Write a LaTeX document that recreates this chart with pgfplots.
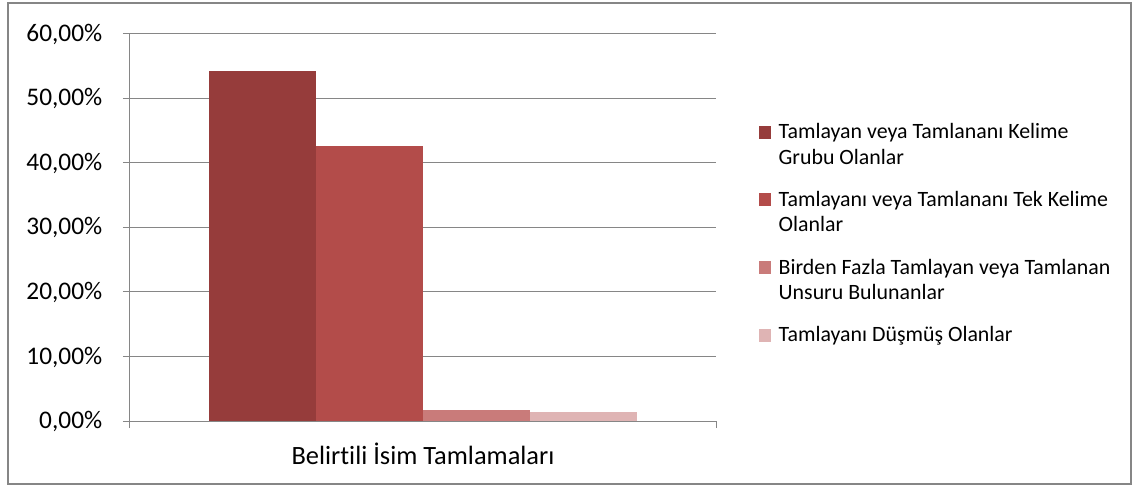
\documentclass[border=0pt]{standalone}
\usepackage{fontspec}
\setmainfont{Carlito}[Ligatures=NoCommon]
\usepackage{pgfplots}
\pgfplotsset{compat=1.18}

\definecolor{barA}{RGB}{150,60,59}
\definecolor{barB}{RGB}{179,76,74}
\definecolor{barC}{RGB}{201,123,122}
\definecolor{barD}{RGB}{223,180,180}
\definecolor{gridc}{RGB}{134,134,134}

\newcommand{\two}[2]{\begin{tabular}[t]{@{}l@{}}#1\\#2\end{tabular}}

\begin{document}
\begin{tikzpicture}
\begin{axis}[
    at={(0pt,0pt)}, anchor=south west,
    scale only axis,
    width=439.5pt, height=290.6pt,
    xmin=-0.5, xmax=0.5,
    ymin=0, ymax=60,
    ybar=0pt, bar width=0.1826,
    axis x line*=bottom, axis y line*=left,
    axis line style={gridc, line width=0.75pt, -},
    ymajorgrids, grid style={gridc, line width=0.75pt},
    tick align=outside, major tick length=5.25pt,
    tick style={gridc, line width=0.75pt},
    ytick={0,10,20,30,40,50,60},
    yticklabels={{0,00\%},{10,00\%},{20,00\%},{30,00\%},{40,00\%},{50,00\%},{60,00\%}},
    yticklabel style={font=\fontsize{19}{23}\selectfont, anchor=east, inner sep=0pt,
        text height=11.5pt, text depth=0pt, xshift=-15.4pt},
    xtick={-0.5,0.5}, xticklabels={,},
    extra x ticks={0},
    extra x tick labels={Belirtili İsim Tamlamaları},
    extra x tick style={major tick length=0pt,
        xticklabel style={font=\fontsize{19.8}{24}\selectfont, anchor=base, inner sep=0pt, yshift=-32.6pt}},
    legend image code/.code={\fill[#1] (0pt,0pt) rectangle (9pt,9.75pt);},
    legend style={at={(rel axis cs:1.0734,0.7695)}, anchor=north west,
        draw=none, fill=none, inner sep=0pt, outer sep=0pt,
        row sep=35.2pt, column sep=3.75pt,
        font=\fontsize{16.4}{19}\selectfont,
        cells={anchor=base west, inner sep=0pt, text height=10pt, text depth=24pt}},
]
\addplot[fill=barA, draw=none] coordinates {(0,54.26)};
\addlegendentry{\two{Tamlayan veya Tamlananı Kelime}{Grubu Olanlar}}
\addplot[fill=barB, draw=none] coordinates {(0,42.65)};
\addlegendentry{\two{Tamlayanı veya Tamlananı Tek Kelime}{Olanlar}}
\addplot[fill=barC, draw=none] coordinates {(0,1.78)};
\addlegendentry{\two{Birden Fazla Tamlayan veya Tamlanan}{Unsuru Bulunanlar}}
\addplot[fill=barD, draw=none] coordinates {(0,1.32)};
\addlegendentry{Tamlayanı Düşmüş Olanlar}
\end{axis}
\draw[gridc, line width=0.9pt] (-91.5pt,-47.25pt) rectangle (750.75pt,313.5pt);
\pgfresetboundingbox
\path[use as bounding box] (-97.5pt,-48.75pt) rectangle (753pt,315.75pt);
\end{tikzpicture}
\end{document}
